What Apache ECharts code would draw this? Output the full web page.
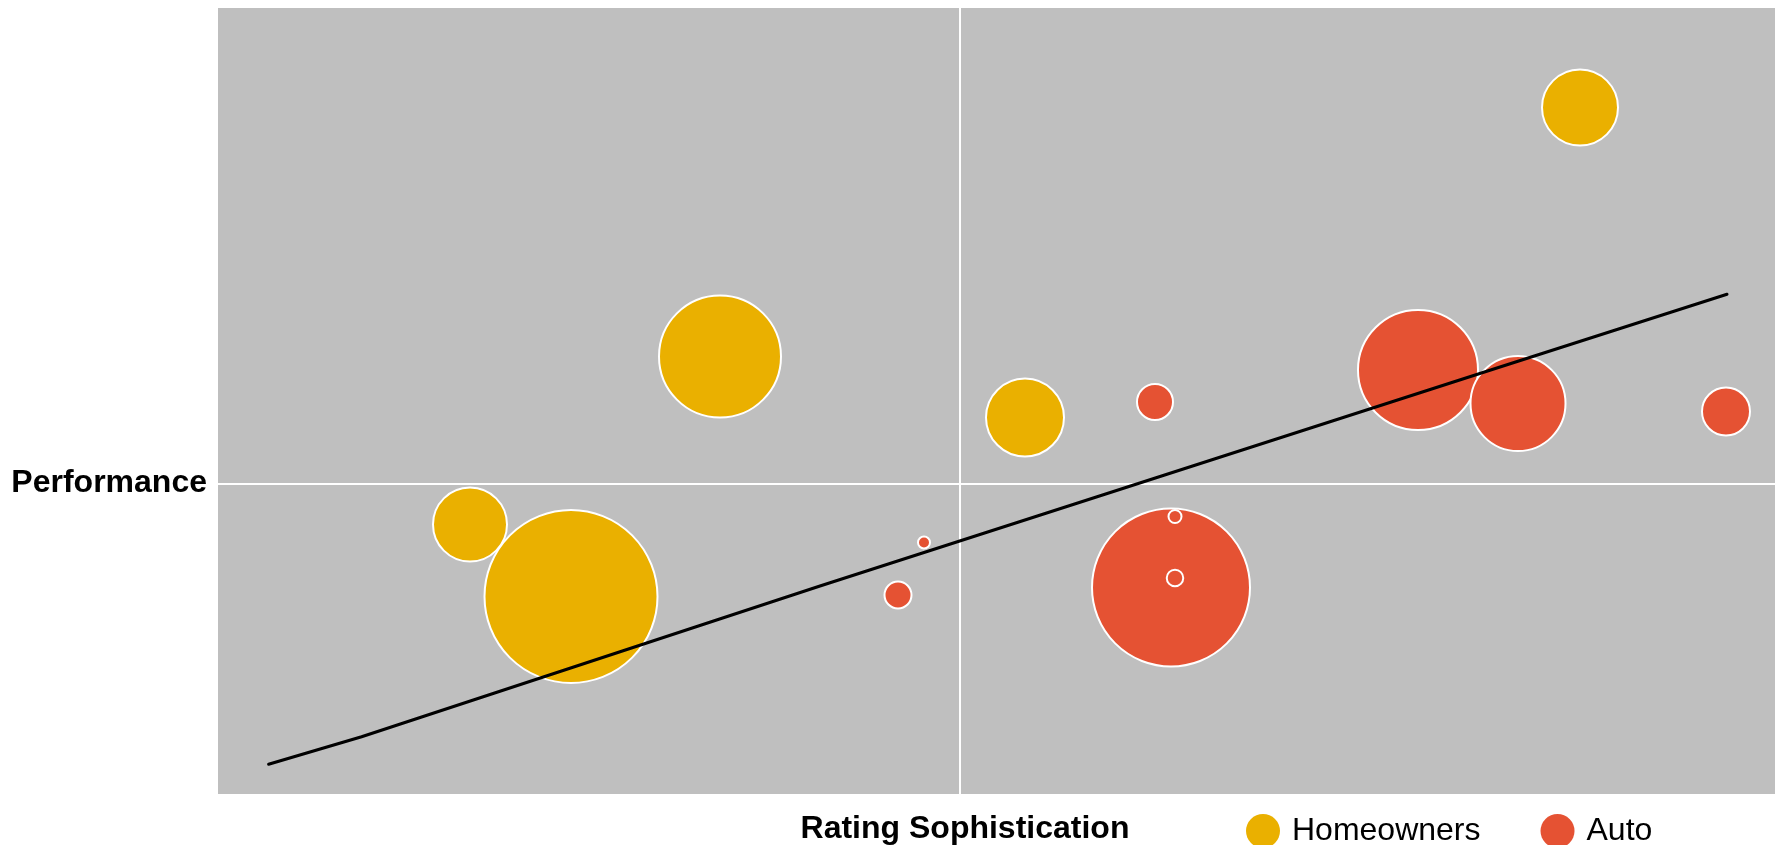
<!DOCTYPE html>
<html>
<head>
<meta charset="utf-8">
<title>Rating Sophistication vs Performance</title>
<script src="https://cdn.jsdelivr.net/npm/echarts@6/dist/echarts.min.js"></script>
<style>
  html, body { margin: 0; padding: 0; background: #ffffff; }
  #chart { width: 1775px; height: 845px; }
</style>
</head>
<body>
<div id="chart"></div>
<script>
// [rating sophistication, performance, bubble weight]
const homeowners = [
  [6.20, 3.76, 7.8],
  [-2.40, 1.27, 12.4],
  [0.65, 0.66, 8.0],
  [-4.90, -0.41, 7.6],
  [-3.89, -1.13, 17.5]
];

const auto = [
  [4.58, 1.135, 12.2],
  [5.58, 0.80, 9.7],
  [7.66, 0.72, 5.0],
  [1.95, 0.815, 3.8],
  [2.11, -1.04, 16.0],
  [2.15, -0.33, 1.5],
  [2.15, -0.945, 1.85],
  [-0.62, -1.115, 2.9],
  [-0.36, -0.59, 1.4]
];

// trend line
const trend = [
  [-6.914, -2.808],
  [-5.984, -2.532],
  [-1.40, -1.025],
  [5.40, 1.165],
  [7.67, 1.892]
];

const seriesNames = ['Homeowners', 'Auto'];
const axisNames = { x: 'Rating Sophistication', y: 'Performance' };
const xRange = [-7.42, 8.15];
const yRange = [-3.105, 4.755];

const font = "'Liberation Sans', Arial, Helvetica, sans-serif";

const chart = echarts.init(document.getElementById('chart'));

const bubbleStyle = (color) => ({
  color: color,
  borderColor: '#ffffff',
  borderWidth: 2,
  opacity: 1
});

const option = {
  animation: false,
  backgroundColor: '#ffffff',
  textStyle: { fontFamily: font },
  grid: {
    left: 218,
    right: 0,
    top: 8,
    bottom: 51,
    show: true,
    backgroundColor: '#bfbfbf',
    borderWidth: 0
  },
  legend: {
    data: seriesNames,
    left: 1246,
    top: 814,
    padding: 0,
    icon: 'circle',
    itemWidth: 34,
    itemHeight: 34,
    itemGap: 60,
    itemStyle: { borderWidth: 0 },
    textStyle: {
      fontFamily: font,
      fontSize: 32,
      color: '#000000',
      padding: [0, 0, 0, 7]
    }
  },
  xAxis: {
    type: 'value',
    min: xRange[0],
    max: xRange[1],
    axisLine: { show: false },
    axisTick: { show: false },
    splitLine: { show: false },
    axisLabel: {
      customValues: [0],
      formatter: () => axisNames.x,
      fontFamily: font,
      fontSize: 32,
      fontWeight: 'bold',
      color: '#000000',
      margin: 19,
      padding: [0, 0, 0, 10]
    }
  },
  yAxis: {
    type: 'value',
    min: yRange[0],
    max: yRange[1],
    axisLine: { show: false },
    axisTick: { show: false },
    splitLine: { show: false },
    axisLabel: {
      customValues: [0],
      formatter: () => axisNames.y,
      fontFamily: font,
      fontSize: 32,
      fontWeight: 'bold',
      color: '#000000',
      margin: 11
    }
  },
  series: [
    {
      name: seriesNames[0],
      type: 'scatter',
      data: homeowners,
      symbolSize: (v) => v[2] * 10 - 2,
      itemStyle: bubbleStyle('#eab000'),
      z: 3
    },
    {
      name: seriesNames[1],
      type: 'scatter',
      data: auto,
      symbolSize: (v) => v[2] * 10 - 2,
      itemStyle: bubbleStyle('#e55233'),
      z: 3
    },
    {
      name: 'Trend',
      type: 'line',
      data: trend,
      showSymbol: false,
      symbol: 'none',
      silent: true,
      z: 4,
      lineStyle: { color: '#000000', width: 3, cap: 'round', join: 'round' },
      markLine: {
        silent: true,
        symbol: ['none', 'none'],
        z: 1,
        label: { show: false },
        lineStyle: { color: '#ffffff', width: 2, type: 'solid' },
        emphasis: { disabled: true },
        data: [{ xAxis: 0 }, { yAxis: 0 }]
      }
    }
  ]
};

chart.setOption(option);
</script>
</body>
</html>
